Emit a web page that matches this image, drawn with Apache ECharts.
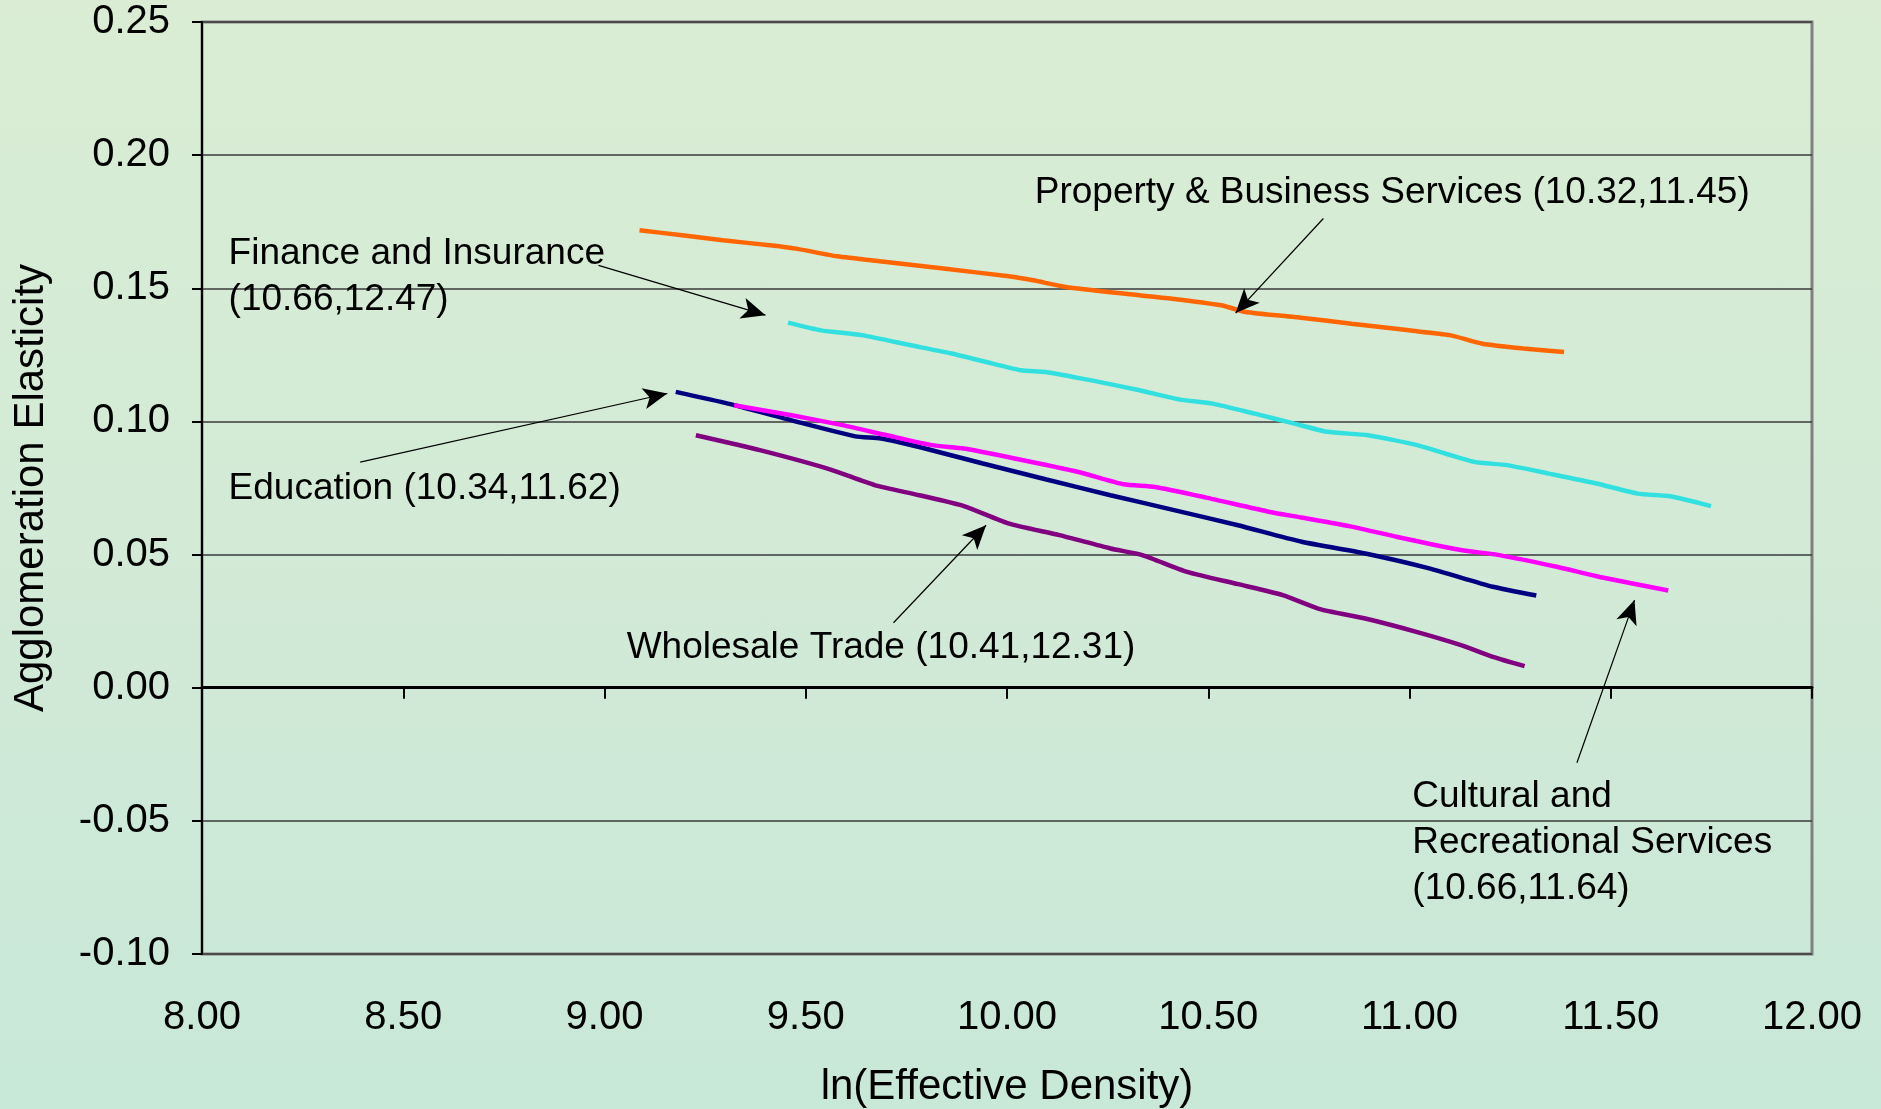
<!DOCTYPE html>
<html>
<head>
<meta charset="utf-8">
<script src="https://cdn.jsdelivr.net/npm/echarts@6/dist/echarts.min.js"></script>
<style>
  html, body { margin: 0; padding: 0; }
  body { background: linear-gradient(180deg, #daedd4 0%, #d2ead6 50%, #c8e8d8 100%); }
  #elast { width: 1881px; height: 1109px; }
</style>
</head>
<body>
<div id="elast"></div>
<script>
// ln(effective density) vs agglomeration elasticity
var xTicks = [8.0, 8.5, 9.0, 9.5, 10.0, 10.5, 11.0, 11.5, 12.0];
var yTicks = [-0.10, -0.05, 0.00, 0.05, 0.10, 0.15, 0.20, 0.25];

var propertyPts = [[9.087,0.1718],[9.193,0.1699],[9.294,0.168],[9.416,0.1661],[9.476,0.1649],[9.578,0.162],[9.700,0.1599],[9.842,0.1574],[10.004,0.1545],[10.065,0.153],[10.146,0.1505],[10.288,0.148],[10.41,0.1461],[10.532,0.1436],[10.593,0.1411],[10.714,0.1392],[10.856,0.1367],[10.999,0.1342],[11.1,0.1324],[11.181,0.1292],[11.283,0.1274],[11.384,0.1261]];
var financePts = [[9.456,0.1371],[9.538,0.1342],[9.639,0.1324],[9.761,0.1286],[9.862,0.1255],[9.964,0.1217],[10.035,0.1192],[10.096,0.1186],[10.207,0.1155],[10.329,0.1117],[10.43,0.1082],[10.511,0.1067],[10.613,0.103],[10.714,0.0992],[10.796,0.0961],[10.897,0.0948],[11.019,0.0911],[11.161,0.0848],[11.242,0.0836],[11.344,0.0805],[11.465,0.0767],[11.567,0.0729],[11.648,0.0719],[11.749,0.0682]];
var educationPts = [[9.177,0.1111],[9.307,0.1067],[9.465,0.1004],[9.623,0.0944],[9.687,0.0936],[9.782,0.0904],[9.94,0.0842],[10.098,0.0782],[10.257,0.0723],[10.415,0.0667],[10.574,0.061],[10.732,0.0548],[10.89,0.0504],[11.049,0.0448],[11.207,0.0379],[11.315,0.0346]];
var culturalPts = [[9.322,0.1061],[9.465,0.1023],[9.591,0.0986],[9.702,0.0948],[9.813,0.0911],[9.893,0.0898],[10.019,0.0861],[10.178,0.081],[10.289,0.0764],[10.368,0.0754],[10.495,0.0714],[10.653,0.066],[10.732,0.0639],[10.859,0.0604],[10.97,0.0566],[11.128,0.0517],[11.223,0.0498],[11.366,0.0454],[11.473,0.0416],[11.643,0.0365]];
var wholesalePts = [[9.227,0.0948],[9.386,0.0892],[9.56,0.082],[9.671,0.0761],[9.782,0.0723],[9.893,0.0682],[10.003,0.0617],[10.13,0.0573],[10.257,0.0523],[10.336,0.0498],[10.447,0.0435],[10.574,0.0389],[10.685,0.0348],[10.78,0.0294],[10.89,0.026],[11.017,0.021],[11.128,0.016],[11.207,0.0116],[11.286,0.0081]];

// annotation texts, where they sit and where their arrows point (data units)
var propertyNote = { text: 'Property & Business Services (10.32,11.45)', at: [10.069, 0.186], from: [10.786, 0.1762], to: [10.568, 0.1407] };
var financeNote = { text: 'Finance and Insurance\n(10.66,12.47)', at: [8.066, 0.1543], from: [8.985, 0.1586], to: [9.40, 0.1399] };
var educationNote = { text: 'Education (10.34,11.62)', at: [8.066, 0.0748], from: [8.393, 0.0847], to: [9.156, 0.1105] };
var wholesaleNote = { text: 'Wholesale Trade (10.41,12.31)', at: [9.055, 0.0149], from: [9.718, 0.0244], to: [9.948, 0.061] };
var culturalNote = { text: 'Cultural and\nRecreational Services\n(10.66,11.64)', at: [11.007, -0.0584], from: [11.416, -0.0282], to: [11.559, 0.0329] };

var FONT = '"Liberation Sans", Arial, sans-serif';

function noteMarks(note) {
  return {
    markPoint: {
      silent: true,
      symbol: 'circle',
      symbolSize: 0,
      data: [{ coord: note.at }],
      label: {
        show: true,
        position: 'right',
        distance: 0,
        formatter: note.text,
        color: '#000',
        fontFamily: FONT,
        fontSize: 37,
        lineHeight: 46
      }
    },
    markLine: {
      silent: true,
      symbol: ['none', 'arrow'],
      symbolSize: [16, 24],
      label: { show: false },
      lineStyle: { color: '#000', width: 1.2, type: 'solid' },
      data: [[{ coord: note.from }, { coord: note.to }]]
    }
  };
}

function lineSeries(name, pts, color, note) {
  var s = {
    name: name,
    type: 'line',
    data: pts,
    showSymbol: false,
    smooth: 0.2,
    lineStyle: { color: color, width: 4.5 },
    z: 3
  };
  var m = noteMarks(note);
  s.markPoint = m.markPoint;
  s.markLine = m.markLine;
  return s;
}

var chartDom = document.getElementById('elast');
var myChart = echarts.init(chartDom);

var option = {
  animation: false,
  backgroundColor: 'transparent',
  grid: {
    left: 202,
    right: 69,
    top: 22,
    bottom: 155,
    outerBoundsMode: 'none',
    containLabel: false,
    show: true,
    borderColor: '#808080',
    borderWidth: 3,
    backgroundColor: 'transparent'
  },
  xAxis: [
    {
      type: 'value',
      position: 'bottom',
      min: xTicks[0],
      max: xTicks[xTicks.length - 1],
      interval: 0.5,
      axisLine: { show: false, onZero: false },
      axisTick: { show: false },
      splitLine: { show: false },
      axisLabel: {
        margin: 44,
        color: '#000',
        fontFamily: FONT,
        fontSize: 40,
        formatter: function (v) { return v.toFixed(2); }
      },
      name: 'ln(Effective Density)',
      nameLocation: 'middle',
      nameGap: 112,
      nameTextStyle: { color: '#000', fontFamily: FONT, fontSize: 42 }
    },
    {
      type: 'value',
      position: 'bottom',
      min: xTicks[0],
      max: xTicks[xTicks.length - 1],
      interval: 0.5,
      axisLine: { show: true, onZero: true, lineStyle: { color: '#000', width: 3 } },
      axisTick: { show: true, length: 11, lineStyle: { color: '#000', width: 2 } },
      axisLabel: { show: false },
      splitLine: { show: false }
    }
  ],
  yAxis: {
    type: 'value',
    min: yTicks[0],
    max: yTicks[yTicks.length - 1],
    interval: 0.05,
    axisLine: { show: true, onZero: false, lineStyle: { color: '#000', width: 2 } },
    axisTick: { show: true, length: 10, lineStyle: { color: '#000', width: 2 } },
    splitLine: { show: true, lineStyle: { color: '#3a3a3a', width: 1.5 } },
    axisLabel: {
      margin: 32,
      color: '#000',
      fontFamily: FONT,
      fontSize: 40,
      formatter: function (v) { return v.toFixed(2); }
    },
    name: 'Agglomeration Elasticity',
    nameLocation: 'middle',
    nameGap: 150,
    nameTextStyle: { color: '#000', fontFamily: FONT, fontSize: 42 }
  },
  series: [
    lineSeries('Property & Business Services', propertyPts, '#ff6600', propertyNote),
    lineSeries('Finance and Insurance', financePts, '#33e0e0', financeNote),
    lineSeries('Education', educationPts, '#000080', educationNote),
    lineSeries('Cultural and Recreational Services', culturalPts, '#ff00ff', culturalNote),
    lineSeries('Wholesale Trade', wholesalePts, '#800080', wholesaleNote)
  ]
};

option && myChart.setOption(option);
</script>
</body>
</html>
